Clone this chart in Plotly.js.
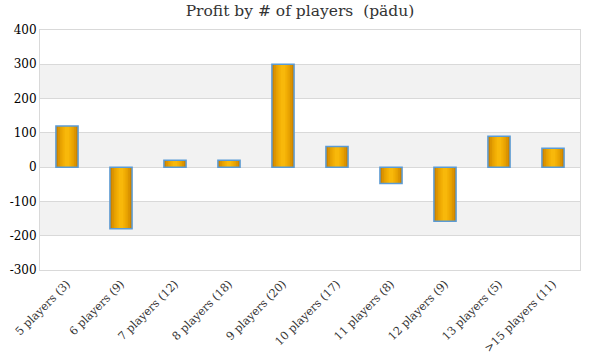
<!DOCTYPE html>
<html><head><meta charset="utf-8">
<script src="https://cdn.plot.ly/plotly-3.0.1.min.js"></script>
<style>html,body{margin:0;padding:0;background:#fff}</style>
</head><body><div id="chart" style="width:600px;height:360px"></div>
<script>
const categories = ["5 players (3)","6 players (9)","7 players (12)","8 players (18)","9 players (20)","10 players (17)","11 players (8)","12 players (9)","13 players (5)",">15 players (11)"];
const profit = [120, -180, 20, 20, 300, 60, -48, -158, 90, 55];
const yTicks = [-300, -200, -100, 0, 100, 200, 300, 400];
const yTickText = yTicks.map(v => String(v));

// horizontal gradient imitation: outer -> inner layers
const layers = [
  {w:0.41, c:"#cd8500"},
  {w:0.33, c:"#dc9500"},
  {w:0.25, c:"#e9a402"},
  {w:0.17, c:"#f2ae05"},
  {w:0.09, c:"#f8b80a"}
];
const traces = layers.map(L=>({
  type:"bar", x:categories, y:profit, width:L.w,
  marker:{color:L.c, line:{width:0}},
  hoverinfo:"skip", showlegend:false
}));
traces.push({type:"bar", x:categories, y:profit, width:0.41,
  marker:{color:"rgba(0,0,0,0)", line:{color:"#5b9bd5", width:1.5}},
  hoverinfo:"skip", showlegend:false});

// alternating bands between ticks
const shapes = [];
for (let i = 0; i < yTicks.length - 1; i++) {
  const lo = yTicks[i], hi = yTicks[i+1];
  if (((hi/100) % 2 + 2) % 2 === 1) {
    shapes.push({type:"rect", xref:"paper", yref:"y", x0:0, x1:1, y0:lo, y1:hi,
      fillcolor:"#f2f2f2", line:{width:0}, layer:"below"});
  }
}

const layout = {
  width:600, height:360,
  margin:{l:40, r:20, t:30, b:90},
  paper_bgcolor:"#fff", plot_bgcolor:"#fff",
  barmode:"overlay",
  title:{text:"Profit by # of players  (pädu)", x:0.5, xanchor:"center", y:0.985, yanchor:"top",
    font:{family:"DejaVu Serif, Georgia, serif", size:15.5, color:"#333"}},
  xaxis:{tickangle:-45, showgrid:false, showline:true, linecolor:"#d9d9d9", mirror:true,
    ticks:"", ticklabelstandoff:2,
    tickfont:{family:"DejaVu Serif, Georgia, serif", size:11.3, color:"#333"}},
  yaxis:{range:[-300,400], tickvals:yTicks, ticktext:yTickText, showgrid:true, gridcolor:"#d9d9d9",
    zeroline:true, zerolinecolor:"#d9d9d9", zerolinewidth:1,
    showline:true, linecolor:"#d9d9d9", mirror:true, ticks:"",
    tickfont:{family:"DejaVu Serif, Georgia, serif", size:12, color:"#000"}},
  shapes:shapes
};
Plotly.newPlot("chart", traces, layout, {displayModeBar:false, staticPlot:true});
</script></body></html>
